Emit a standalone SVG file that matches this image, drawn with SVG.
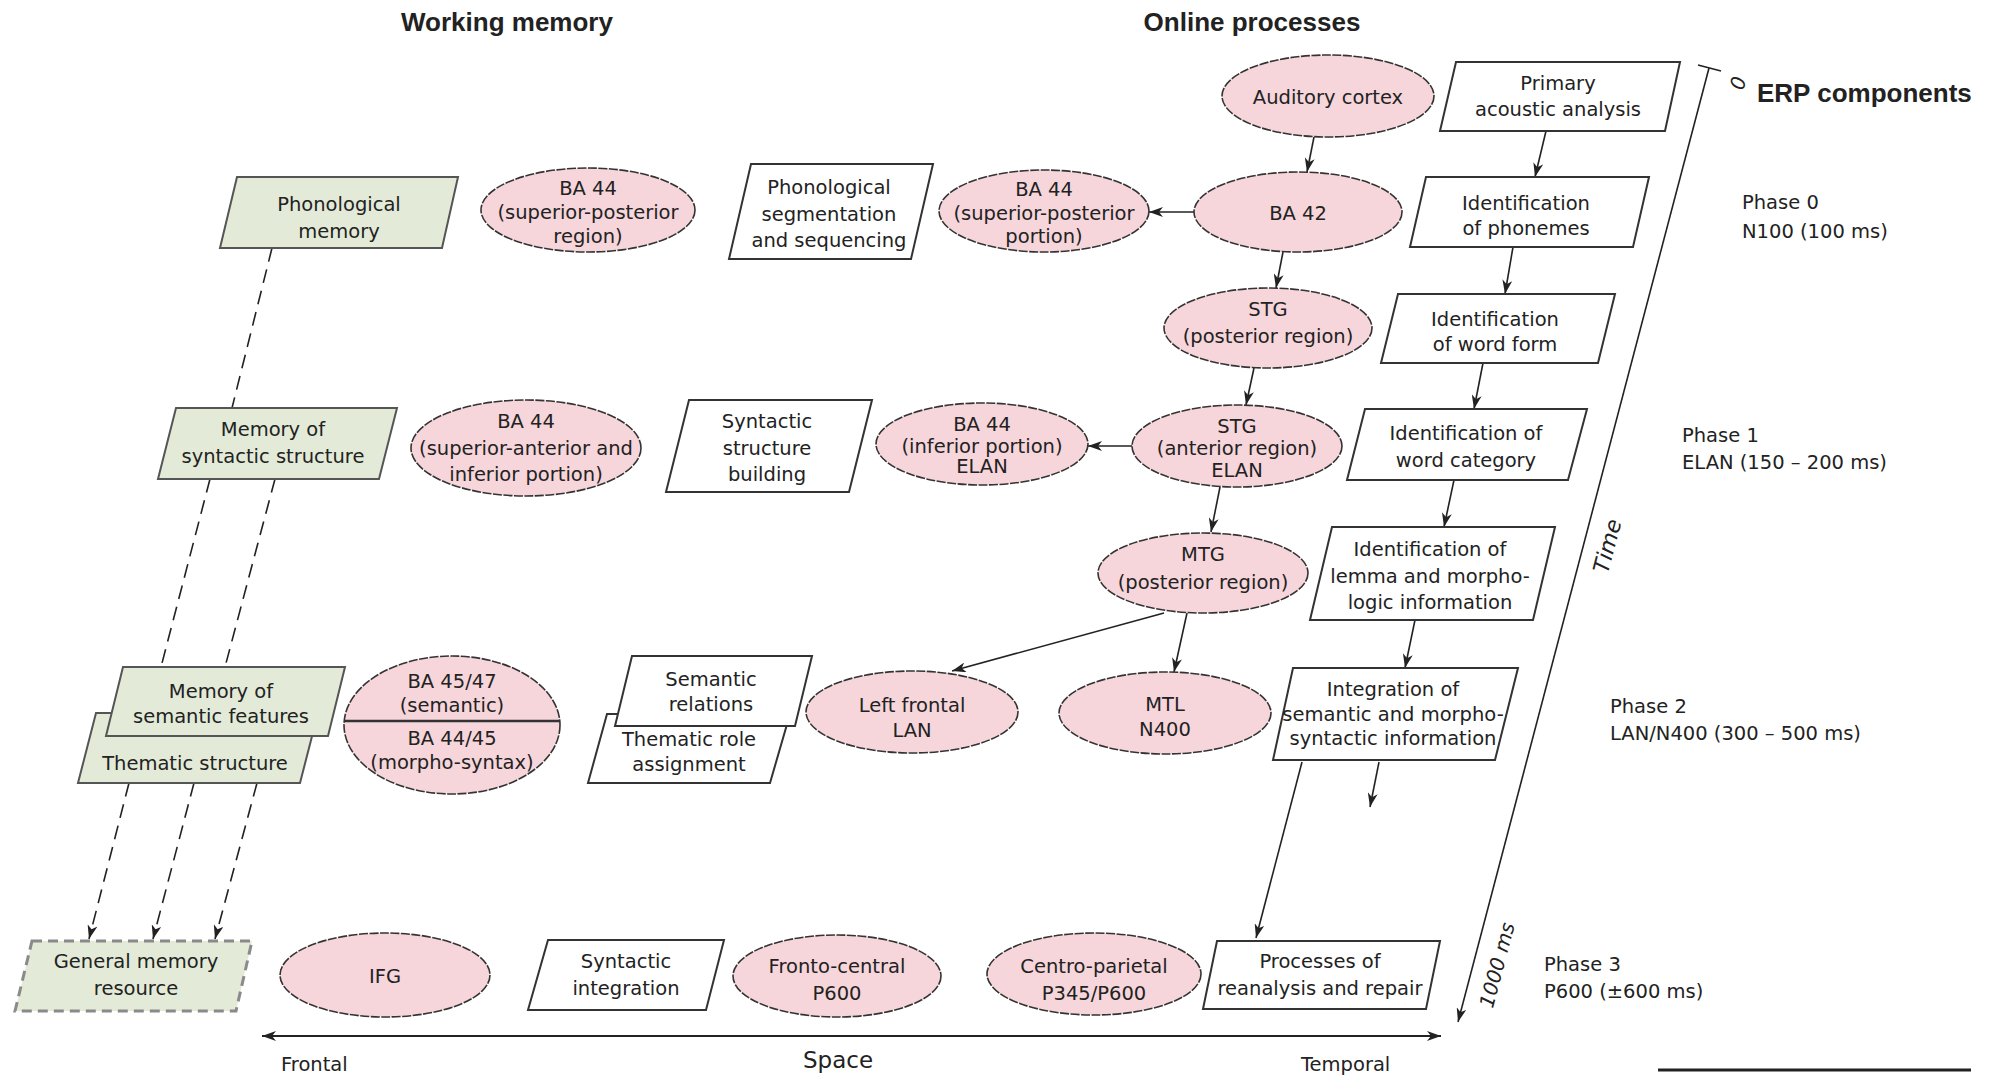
<svg xmlns="http://www.w3.org/2000/svg" width="2002" height="1078" viewBox="0 0 2002 1078">
<style>
.pw{fill:#ffffff;stroke:#333;stroke-width:2}
.pg{fill:#e3ebd8;stroke:#555;stroke-width:2}
.pgd{fill:#e3ebd8;stroke:#8a8a8a;stroke-width:3;stroke-dasharray:10 6}
.el{fill:#f6d6db;stroke:#333;stroke-width:1.6;stroke-dasharray:9 1.5}
.t{font-family:"DejaVu Sans","Liberation Sans",sans-serif;font-size:19.5px;text-anchor:middle;fill:#222}
.h{font-family:"Liberation Sans",Arial,sans-serif;font-weight:bold;font-size:26px;fill:#222}
.ph{font-family:"DejaVu Sans","Liberation Sans",sans-serif;font-size:19.5px;fill:#222}
.sp{font-family:"DejaVu Sans","Liberation Sans",sans-serif;font-size:23px;fill:#222;text-anchor:middle}
.it{font-family:"DejaVu Sans","Liberation Sans",sans-serif;font-style:italic;font-size:20px;text-anchor:middle;fill:#222}
.itb{font-family:"DejaVu Sans","Liberation Sans",sans-serif;font-style:italic;font-size:22px;text-anchor:middle;fill:#222}
.c{fill:none;stroke:#222;stroke-width:1.6}
.cd{fill:none;stroke:#222;stroke-width:1.6;stroke-dasharray:14 8}
.ax{fill:none;stroke:#222;stroke-width:2}
</style>
<defs>
<marker id="ah" viewBox="0 0 14 10" refX="14" refY="5" markerWidth="14" markerHeight="10" markerUnits="userSpaceOnUse" orient="auto-start-reverse">
<path d="M0,0 L14,5 L0,10 L4,5 z" fill="#222"/>
</marker>
</defs>
<rect x="0" y="0" width="2002" height="1078" fill="#ffffff"/>

<g id="headers">
<text class="h" x="507" y="31" text-anchor="middle">Working memory</text>
<text class="h" x="1252" y="31" text-anchor="middle">Online processes</text>
<text class="h" x="1757" y="102">ERP components</text>
</g>

<g id="phases">
<text class="ph" x="1742" y="209">Phase 0</text>
<text class="ph" x="1742" y="238">N100 (100 ms)</text>
<text class="ph" x="1682" y="442">Phase 1</text>
<text class="ph" x="1682" y="469">ELAN (150 – 200 ms)</text>
<text class="ph" x="1610" y="713">Phase 2</text>
<text class="ph" x="1610" y="740">LAN/N400 (300 – 500 ms)</text>
<text class="ph" x="1544" y="971">Phase 3</text>
<text class="ph" x="1544" y="998">P600 (±600 ms)</text>
</g>

<g id="connectors">
<line class="c" x1="1314" y1="137" x2="1307" y2="172" marker-end="url(#ah)"/>
<line class="c" x1="1546" y1="131" x2="1535" y2="177" marker-end="url(#ah)"/>
<line class="c" x1="1194" y1="212" x2="1149" y2="212" marker-end="url(#ah)"/>
<line class="c" x1="1283" y1="252" x2="1276" y2="288" marker-end="url(#ah)"/>
<line class="c" x1="1513" y1="247" x2="1505" y2="294" marker-end="url(#ah)"/>
<line class="c" x1="1254" y1="368" x2="1246" y2="405" marker-end="url(#ah)"/>
<line class="c" x1="1483" y1="363" x2="1474" y2="409" marker-end="url(#ah)"/>
<line class="c" x1="1132" y1="446" x2="1088" y2="446" marker-end="url(#ah)"/>
<line class="c" x1="1220" y1="487" x2="1211" y2="532" marker-end="url(#ah)"/>
<line class="c" x1="1454" y1="480" x2="1444" y2="527" marker-end="url(#ah)"/>
<line class="c" x1="1164" y1="613" x2="952" y2="671" marker-end="url(#ah)"/>
<line class="c" x1="1187" y1="613" x2="1174" y2="672" marker-end="url(#ah)"/>
<line class="c" x1="1415" y1="620" x2="1405" y2="668" marker-end="url(#ah)"/>
<line class="c" x1="1379" y1="762" x2="1370" y2="807" marker-end="url(#ah)"/>
<line class="c" x1="1302" y1="762" x2="1256" y2="938" marker-end="url(#ah)"/>
<line class="cd" x1="272" y1="248" x2="232" y2="408"/>
<line class="cd" x1="210" y1="479" x2="161" y2="667"/>
<line class="cd" x1="275" y1="479" x2="225" y2="667"/>
<line class="cd" x1="129" y1="783" x2="89" y2="939" marker-end="url(#ah)"/>
<line class="cd" x1="194" y1="783" x2="153" y2="939" marker-end="url(#ah)"/>
<line class="cd" x1="257" y1="783" x2="215" y2="939" marker-end="url(#ah)"/>
</g>

<g id="axes">
<line class="ax" x1="262" y1="1036" x2="1441" y2="1036" marker-start="url(#ah)" marker-end="url(#ah)"/>
<line class="c" x1="1709" y1="68" x2="1458" y2="1022" marker-end="url(#ah)"/>
<line class="c" x1="1698" y1="65" x2="1721" y2="71"/>
<text class="it" transform="translate(1738,83) rotate(-75.3)" y="7">0</text>
<text class="itb" transform="translate(1608,546) rotate(-75.3)" y="7">Time</text>
<text class="it" transform="translate(1497,965) rotate(-75.3)" y="7">1000 ms</text>
<text class="ph" x="281" y="1071">Frontal</text>
<text class="sp" x="838" y="1068">Space</text>
<text class="ph" x="1301" y="1071">Temporal</text>
<line x1="1658" y1="1070" x2="1971" y2="1070" stroke="#222" stroke-width="3"/>
</g>

<g id="primary-acoustic">
<polygon class="pw" points="1456,62 1680,62 1665,131 1440,131"/>
<text class="t" x="1558" y="90">Primary</text>
<text class="t" x="1558" y="116">acoustic analysis</text>
</g>
<g id="auditory-cortex">
<ellipse class="el" cx="1328" cy="96" rx="106" ry="41"/>
<text class="t" x="1328" y="104">Auditory cortex</text>
</g>
<g id="phonological-memory">
<polygon class="pg" points="237,177 458,177 442,248 220,248"/>
<text class="t" x="339" y="211">Phonological</text>
<text class="t" x="339" y="238">memory</text>
</g>
<g id="ba44-sup-post-region">
<ellipse class="el" cx="588" cy="210" rx="107" ry="42"/>
<text class="t" x="588" y="195">BA 44</text>
<text class="t" x="588" y="219">(superior-posterior</text>
<text class="t" x="588" y="243">region)</text>
</g>
<g id="phonological-segmentation">
<polygon class="pw" points="751,164 933,164 911,259 729,259"/>
<text class="t" x="829" y="194">Phonological</text>
<text class="t" x="829" y="221">segmentation</text>
<text class="t" x="829" y="247">and sequencing</text>
</g>
<g id="ba44-sup-post-portion">
<ellipse class="el" cx="1044" cy="211" rx="105" ry="41"/>
<text class="t" x="1044" y="196">BA 44</text>
<text class="t" x="1044" y="220">(superior-posterior</text>
<text class="t" x="1044" y="243">portion)</text>
</g>
<g id="ba42">
<ellipse class="el" cx="1298" cy="212" rx="104" ry="40"/>
<text class="t" x="1298" y="220">BA 42</text>
</g>
<g id="identification-phonemes">
<polygon class="pw" points="1426,177 1649,177 1633,247 1410,247"/>
<text class="t" x="1526" y="210">Identification</text>
<text class="t" x="1526" y="235">of phonemes</text>
</g>
<g id="stg-posterior">
<ellipse class="el" cx="1268" cy="328" rx="104" ry="40"/>
<text class="t" x="1268" y="316">STG</text>
<text class="t" x="1268" y="343">(posterior region)</text>
</g>
<g id="identification-word-form">
<polygon class="pw" points="1398,294 1615,294 1598,363 1381,363"/>
<text class="t" x="1495" y="326">Identification</text>
<text class="t" x="1495" y="351">of word form</text>
</g>
<g id="memory-syntactic">
<polygon class="pg" points="176,408 397,408 379,479 158,479"/>
<text class="t" x="273" y="436">Memory of</text>
<text class="t" x="273" y="463">syntactic structure</text>
</g>
<g id="ba44-sup-ant">
<ellipse class="el" cx="526" cy="448" rx="115" ry="48"/>
<text class="t" x="526" y="428">BA 44</text>
<text class="t" x="526" y="455">(superior-anterior and</text>
<text class="t" x="526" y="481">inferior portion)</text>
</g>
<g id="syntactic-structure-building">
<polygon class="pw" points="689,400 872,400 849,492 666,492"/>
<text class="t" x="767" y="428">Syntactic</text>
<text class="t" x="767" y="455">structure</text>
<text class="t" x="767" y="481">building</text>
</g>
<g id="ba44-inferior">
<ellipse class="el" cx="982" cy="444" rx="106" ry="41"/>
<text class="t" x="982" y="431">BA 44</text>
<text class="t" x="982" y="453">(inferior portion)</text>
<text class="t" x="982" y="473">ELAN</text>
</g>
<g id="stg-anterior">
<ellipse class="el" cx="1237" cy="446" rx="105" ry="41"/>
<text class="t" x="1237" y="433">STG</text>
<text class="t" x="1237" y="455">(anterior region)</text>
<text class="t" x="1237" y="477">ELAN</text>
</g>
<g id="identification-word-category">
<polygon class="pw" points="1365,409 1587,409 1568,480 1347,480"/>
<text class="t" x="1466" y="440">Identification of</text>
<text class="t" x="1466" y="467">word category</text>
</g>
<g id="mtg-posterior">
<ellipse class="el" cx="1203" cy="573" rx="105" ry="40"/>
<text class="t" x="1203" y="561">MTG</text>
<text class="t" x="1203" y="589">(posterior region)</text>
</g>
<g id="identification-lemma">
<polygon class="pw" points="1332,527 1555,527 1533,620 1310,620"/>
<text class="t" x="1430" y="556">Identification of</text>
<text class="t" x="1430" y="583">lemma and morpho-</text>
<text class="t" x="1430" y="609">logic information</text>
</g>
<g id="thematic-structure">
<polygon class="pg" points="96,713 318,713 300,783 78,783"/>
<text class="t" x="195" y="770">Thematic structure</text>
</g>
<g id="memory-semantic">
<polygon class="pg" points="123,667 345,667 328,736 106,736"/>
<text class="t" x="221" y="698">Memory of</text>
<text class="t" x="221" y="723">semantic features</text>
</g>
<g id="ba45-47-ba44-45">
<ellipse class="el" cx="452" cy="725" rx="108" ry="69"/>
<line x1="344" y1="721" x2="560" y2="721" stroke="#333" stroke-width="2.5"/>
<text class="t" x="452" y="688">BA 45/47</text>
<text class="t" x="452" y="712">(semantic)</text>
<text class="t" x="452" y="745">BA 44/45</text>
<text class="t" x="452" y="769">(morpho-syntax)</text>
</g>
<g id="thematic-role">
<polygon class="pw" points="607,714 790,714 770,783 588,783"/>
<text class="t" x="689" y="746">Thematic role</text>
<text class="t" x="689" y="771">assignment</text>
</g>
<g id="semantic-relations">
<polygon class="pw" points="632,656 812,656 795,726 615,726"/>
<text class="t" x="711" y="686">Semantic</text>
<text class="t" x="711" y="711">relations</text>
</g>
<g id="left-frontal">
<ellipse class="el" cx="912" cy="712" rx="106" ry="41"/>
<text class="t" x="912" y="712">Left frontal</text>
<text class="t" x="912" y="737">LAN</text>
</g>
<g id="mtl">
<ellipse class="el" cx="1165" cy="713" rx="106" ry="41"/>
<text class="t" x="1165" y="711">MTL</text>
<text class="t" x="1165" y="736">N400</text>
</g>
<g id="integration">
<polygon class="pw" points="1293,668 1518,668 1495,760 1273,760"/>
<text class="t" x="1393" y="696">Integration of</text>
<text class="t" x="1393" y="721">semantic and morpho-</text>
<text class="t" x="1393" y="745">syntactic information</text>
</g>
<g id="general-memory">
<polygon class="pgd" points="32,941 252,941 236,1011 15,1011"/>
<text class="t" x="136" y="968">General memory</text>
<text class="t" x="136" y="995">resource</text>
</g>
<g id="ifg">
<ellipse class="el" cx="385" cy="975" rx="105" ry="42"/>
<text class="t" x="385" y="983">IFG</text>
</g>
<g id="syntactic-integration">
<polygon class="pw" points="548,940 724,940 706,1010 528,1010"/>
<text class="t" x="626" y="968">Syntactic</text>
<text class="t" x="626" y="995">integration</text>
</g>
<g id="fronto-central">
<ellipse class="el" cx="837" cy="976" rx="104" ry="41"/>
<text class="t" x="837" y="973">Fronto-central</text>
<text class="t" x="837" y="1000">P600</text>
</g>
<g id="centro-parietal">
<ellipse class="el" cx="1094" cy="974" rx="107" ry="41"/>
<text class="t" x="1094" y="973">Centro-parietal</text>
<text class="t" x="1094" y="1000">P345/P600</text>
</g>
<g id="processes-reanalysis">
<polygon class="pw" points="1217,941 1440,941 1426,1009 1203,1009"/>
<text class="t" x="1320" y="968">Processes of</text>
<text class="t" x="1320" y="995">reanalysis and repair</text>
</g>
</svg>
